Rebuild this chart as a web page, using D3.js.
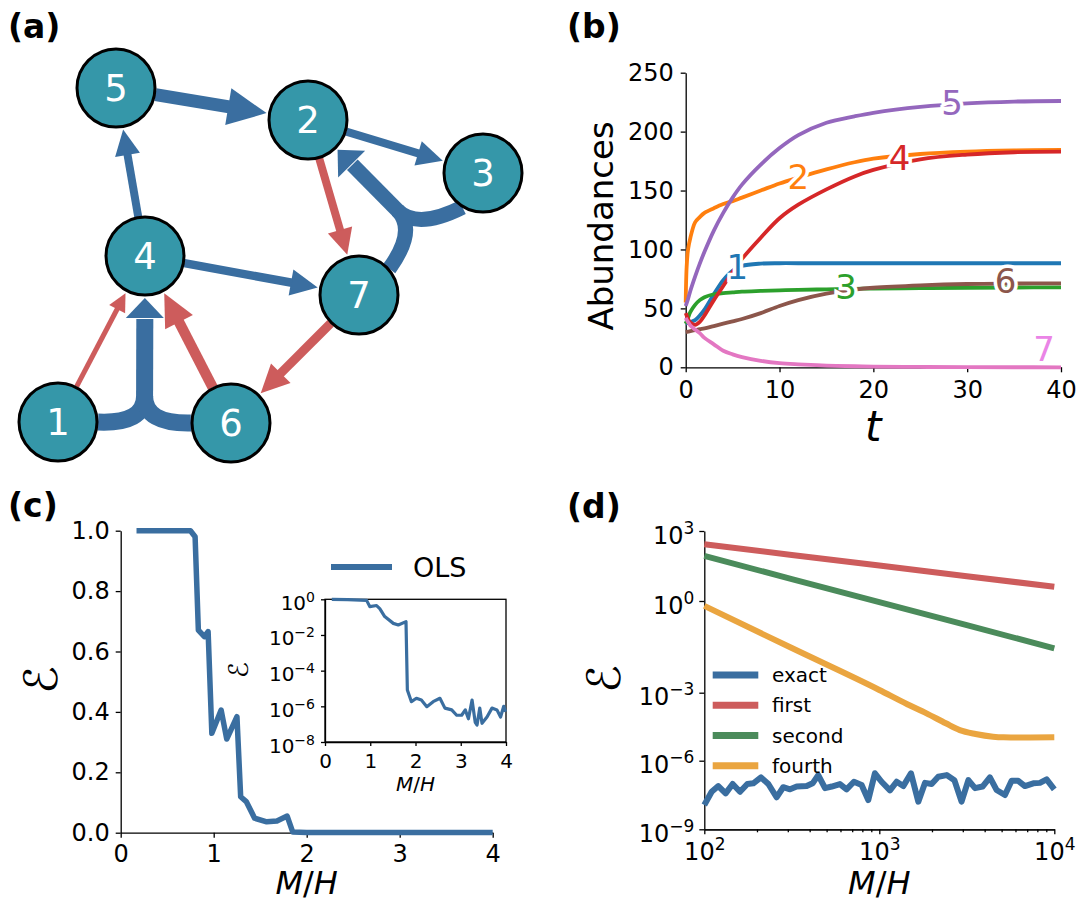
<!DOCTYPE html>
<meta charset="utf-8">
<style>
body { margin: 0; background: #fff; }
text { font-family: "DejaVu Sans", sans-serif; }
</style>
<body>
<script src="https://d3js.org/d3.v7.min.js"></script>
<script>

// ---------------- data ----------------
// (a) interaction network
var nodeX = [58, 308, 483, 145, 116, 231, 359];
var nodeY = [422, 120, 173, 256, 88, 423, 295];
var edgeFrom = [5, 2, 4, 4, 2, 7, 6, 1];
var edgeTo = [2, 3, 5, 7, 7, 6, 4, 4];
var edgeSign = [1, 1, 1, 1, -1, -1, -1, -1];
var edgeStrength = [1.3, 0.8, 0.8, 0.85, 0.8, 0.9, 1.05, 0.5];
var hyperSrc = [[1, 6], [3, 7]];
var hyperTgt = [4, 2];
var hyperStrength = [1.7, 1.5];

// (b) abundances
var tGrid = [0, 0.1, 0.25, 0.5, 1, 1.5, 2, 3, 4, 5, 6, 8, 10, 12, 15, 18, 20, 25, 30, 35, 40];
var sp1 = [37, 37.3, 37.8, 38.5, 40, 44, 49, 62, 74, 82, 86, 88, 88.3, 88.3, 88.3, 88.3, 88.3, 88.3, 88.3, 88.3, 88.3];
var sp2 = [55, 85, 100, 110, 123, 127.5, 131, 135, 138.5, 141, 144, 150, 156, 161, 168, 174, 177, 181, 183, 184, 184.5];
var sp3 = [37, 39, 42, 47, 53, 57, 59.5, 62, 63, 63.6, 64.2, 64.8, 65.3, 65.7, 66.2, 66.6, 66.8, 67.2, 67.5, 67.7, 67.9];
var sp4 = [46, 44, 41, 38, 36, 38.5, 44, 57, 69, 81, 92, 110, 126.5, 138, 151, 162, 167.5, 176.5, 180.5, 182.5, 183];
var sp5 = [52, 54.5, 58, 65, 77, 88, 98, 116, 131, 144, 155, 172, 186, 197, 207.5, 213, 216, 221, 224, 225.5, 226];
var sp6 = [30, 30.1, 30.3, 30.7, 31.5, 32.3, 33, 35, 37, 39, 41, 46, 52, 57, 62.5, 66, 67.5, 69.5, 70.7, 71.1, 71.3];
var sp7 = [42, 40.5, 38.5, 35.5, 32, 29, 25, 19.5, 14, 11, 8.7, 5.5, 3.5, 2.5, 1.5, 0.9, 0.6, 0.3, 0.1, 0.05, 0];
var spNames = ["1", "2", "3", "4", "5", "6", "7"];
var labelT = [5.5, 12, 17.1, 22.8, 28.4, 34.1, 38.2];
var labelV = [85.5, 162, 68, 177.6, 224.5, 73.5, 15.5];

// (c) OLS error vs M/H
var olsX = [0.17, 0.75, 0.8, 0.835, 0.9, 0.94, 0.98, 1.08, 1.14, 1.25, 1.29, 1.35, 1.44, 1.57, 1.68, 1.79, 1.85, 2.0, 4.0];
var olsY = [1.0, 1.0, 0.98, 0.671, 0.649, 0.666, 0.329, 0.406, 0.31, 0.384, 0.119, 0.103, 0.048, 0.036, 0.039, 0.055, 0.002, 0.001, 0.001];
// inset, log10 of the error
var insX = [0.15, 0.5, 0.92, 0.99, 1.14, 1.21, 1.32, 1.51, 1.62, 1.79, 1.82, 1.91, 2.02, 2.13, 2.25, 2.39, 2.54, 2.65, 2.8, 2.91, 3.02, 3.1, 3.17, 3.25, 3.32, 3.36, 3.42, 3.47, 3.58, 3.69, 3.8, 3.88, 3.95, 3.99];
var insLog = [0, -0.02, -0.06, -0.41, -0.35, -0.52, -0.97, -1.35, -1.44, -1.25, -5.08, -5.74, -5.55, -5.65, -6.02, -5.74, -5.55, -6.1, -6.2, -6.5, -6.5, -6.2, -6.7, -5.65, -6.9, -7.05, -6.1, -6.95, -6.6, -6.1, -6.2, -6.6, -6.0, -6.3];

// (d) error vs M/H, log10 values
var smoothLogM = [2, 2.5, 3, 3.5, 4];
var firstLog = [2.43, 1.975, 1.52, 1.065, 0.61];
var secondLog = [1.93, 0.94, -0.04, -0.79, -1.55];
var fourthLogM = [2, 2.5, 3, 3.16, 3.27, 3.38, 3.46, 3.55, 3.65, 3.71, 3.8, 4];
var fourthLog = [-0.16, -1.54, -2.91, -3.51, -3.91, -4.35, -4.65, -4.82, -4.94, -4.97, -4.98, -4.97];
var exactLogM = [2.0, 2.042, 2.08, 2.122, 2.162, 2.204, 2.246, 2.28, 2.324, 2.366, 2.413, 2.451, 2.49, 2.528, 2.585, 2.619, 2.651, 2.69, 2.728, 2.775, 2.813, 2.855, 2.899, 2.937, 2.975, 3.013, 3.061, 3.099, 3.137, 3.181, 3.223, 3.261, 3.299, 3.337, 3.385, 3.429, 3.47, 3.509, 3.547, 3.59, 3.632, 3.67, 3.718, 3.756, 3.794, 3.832, 3.88, 3.918, 3.956, 4.0];
var exactLog = [-7.94, -7.36, -7.11, -7.43, -7.02, -7.36, -7.02, -6.99, -6.73, -7.02, -7.6, -7.16, -7.25, -7.13, -7.11, -6.99, -6.63, -7.2, -7.13, -7.02, -7.25, -6.92, -7.06, -7.72, -6.55, -6.92, -7.3, -6.92, -7.11, -6.55, -7.79, -6.97, -7.02, -6.7, -6.63, -6.85, -7.79, -6.85, -7.2, -7.13, -6.73, -7.28, -7.5, -6.88, -6.88, -7.11, -6.99, -6.97, -6.82, -7.25];
var dNames = ["exact", "first", "second", "fourth"];

// ---------------- styles ----------------
var blue = "#3a6ea0", red = "#cd5c5c", teal = "#3597a9";
var tab10 = ["#1f77b4", "#ff7f0e", "#2ca02c", "#d62728", "#9467bd", "#8c564b", "#e377c2"];
var dColors = [blue, red, "#4b8b5b", "#eaa540"];

var fig = d3.select("body").append("svg")
    .attr("width", 1083)
    .attr("height", 904);

function panelLabel(txt, x, y) {
  fig.append("text").attr("x", x).attr("y", y)
    .attr("font-size", 33).attr("font-weight", "bold").text(txt);
}

function styleAxis(g, fs) {
  g.attr("font-family", null).attr("font-size", fs);
  g.select(".domain").attr("stroke", "#000").attr("stroke-width", 1.3);
  g.selectAll(".tick line").attr("stroke", "#000").attr("stroke-width", 1.3);
  g.selectAll(".tick text").attr("fill", "#000");
}

// turn tick text into 10^e with a raised exponent
function powLabels(g, supSize, rise, toExp) {
  g.selectAll(".tick text").each(function (d) {
    var t = d3.select(this), e = toExp(d);
    t.text(null);
    t.append("tspan").text("10");
    t.append("tspan").attr("dy", -rise).attr("font-size", supSize)
      .text(e < 0 ? "\u2212" + (-e) : e);
  });
}

function mhLabel(g, x, y, fs) {
  var t = g.append("text").attr("x", x).attr("y", y)
    .attr("text-anchor", "middle").attr("font-size", fs);
  t.append("tspan").attr("font-style", "italic").text("M");
  t.append("tspan").text("/");
  t.append("tspan").attr("font-style", "italic").text("H");
}

function calE(g, x, y, fs) {
  g.append("text").attr("transform", "translate(" + x + "," + y + ") rotate(-90)")
    .attr("text-anchor", "middle").attr("dy", "0.35em")
    .attr("font-size", fs).text("\u2130");
}

var intFmt = d3.format("d");

// ---------------- (a) network ----------------
panelLabel("(a)", 8, 38);
var ga = fig.append("g");
var wScale = d3.scaleLinear().domain([0, 1]).range([0, 10]);
var nodeR = 39;

function P(id) { return [nodeX[id - 1], nodeY[id - 1]]; }

function head(g, tip, ux, uy, hl, hw, col) {
  var bx = tip[0] - ux * hl, by = tip[1] - uy * hl;
  g.append("path")
    .attr("d", "M" + tip[0] + "," + tip[1] +
      "L" + (bx - uy * hw / 2) + "," + (by + ux * hw / 2) +
      "L" + (bx + uy * hw / 2) + "," + (by - ux * hw / 2) + "Z")
    .attr("fill", col);
  return [bx, by];
}

function drawArrow(g, a, b, w, col) {
  var dx = b[0] - a[0], dy = b[1] - a[1], L = Math.hypot(dx, dy);
  var ux = dx / L, uy = dy / L;
  var tip = [b[0] - ux * 42, b[1] - uy * 42];
  var base = head(g, tip, ux, uy, 2.6 * w + 5, 2.4 * w + 6, col);
  g.append("line")
    .attr("x1", a[0] + ux * 40).attr("y1", a[1] + uy * 40)
    .attr("x2", base[0] + ux).attr("y2", base[1] + uy)
    .attr("stroke", col).attr("stroke-width", w);
}

edgeFrom.forEach(function (f, i) {
  drawArrow(ga, P(f), P(edgeTo[i]), wScale(edgeStrength[i]), edgeSign[i] > 0 ? blue : red);
});

// merged (higher-order) arrows
var hyperPort = [[0, 180], [121, -41]];
var hyperStem = [140, 127];
hyperSrc.forEach(function (srcs, i) {
  var t = P(hyperTgt[i]);
  var mx = d3.mean(srcs, function (s) { return P(s)[0]; });
  var my = d3.mean(srcs, function (s) { return P(s)[1]; });
  var L = Math.hypot(mx - t[0], my - t[1]);
  var ux = (mx - t[0]) / L, uy = (my - t[1]) / L;
  var S = [t[0] + ux * hyperStem[i], t[1] + uy * hyperStem[i]];
  var C = [S[0] + ux * 28, S[1] + uy * 28];
  var w = wScale(hyperStrength[i]);
  srcs.forEach(function (s, k) {
    var p = P(s), an = hyperPort[i][k] * Math.PI / 180;
    var px = p[0] + 40 * Math.cos(an), py = p[1] + 40 * Math.sin(an);
    var path = d3.path();
    path.moveTo(px, py);
    path.quadraticCurveTo(C[0], C[1], S[0], S[1]);
    ga.append("path").attr("d", path.toString())
      .attr("fill", "none").attr("stroke", blue).attr("stroke-width", w);
  });
  var tip = [t[0] + ux * 42, t[1] + uy * 42];
  var base = head(ga, tip, -ux, -uy, 20, 38, blue);
  ga.append("line")
    .attr("x1", S[0] + ux).attr("y1", S[1] + uy)
    .attr("x2", base[0] + ux).attr("y2", base[1] + uy)
    .attr("stroke", blue).attr("stroke-width", w);
});

var node = ga.selectAll(".node")
  .data(nodeX.map(function (x, i) { return { id: i + 1, x: x, y: nodeY[i] }; }))
  .enter().append("g")
  .attr("class", "node")
  .attr("transform", function (d) { return "translate(" + d.x + "," + d.y + ")"; });
node.append("circle").attr("r", nodeR)
  .attr("fill", teal).attr("stroke", "#000").attr("stroke-width", 3);
node.append("text").attr("text-anchor", "middle").attr("dy", "0.36em")
  .attr("font-size", 37).attr("fill", "#fff")
  .text(function (d) { return d.id; });

// ---------------- (b) abundances ----------------
panelLabel("(b)", 567, 38);
var gb = fig.append("g");
var xB = d3.scaleLinear().domain([0, 40]).range([685.7, 1061]);
var yB = d3.scaleLinear().domain([0, 250]).range([367.3, 72.7]);

gb.append("g").attr("transform", "translate(0," + yB(0) + ")")
  .call(d3.axisBottom(xB).tickValues([0, 10, 20, 30, 40]).tickFormat(intFmt)
    .tickSize(5).tickPadding(8.5).tickSizeOuter(0))
  .call(styleAxis, 24);
gb.append("g").attr("transform", "translate(" + xB(0) + ",0)")
  .call(d3.axisLeft(yB).tickValues([0, 50, 100, 150, 200, 250]).tickFormat(intFmt)
    .tickSize(5).tickPadding(7).tickSizeOuter(0))
  .call(styleAxis, 24);

var lineB = d3.line()
  .x(function (d) { return xB(d[0]); })
  .y(function (d) { return yB(d[1]); })
  .curve(d3.curveCatmullRom.alpha(0.5));
[sp1, sp2, sp3, sp4, sp5, sp6, sp7].forEach(function (v, i) {
  gb.append("path")
    .datum(tGrid.map(function (t, j) { return [t, v[j]]; }))
    .attr("d", lineB)
    .attr("fill", "none").attr("stroke", tab10[i]).attr("stroke-width", 3.8);
});
spNames.forEach(function (s, i) {
  gb.append("text").attr("x", xB(labelT[i])).attr("y", yB(labelV[i]))
    .attr("dy", "0.36em").attr("text-anchor", "middle").attr("font-size", 34)
    .attr("fill", i === 6 ? "#ea84e6" : tab10[i])
    .attr("stroke", "#fff").attr("stroke-width", 7).attr("paint-order", "stroke")
    .text(s);
});
gb.append("text").attr("x", (xB(0) + xB(40)) / 2).attr("y", 441)
  .attr("text-anchor", "middle").attr("font-size", 42).attr("font-style", "italic").text("t");
gb.append("text").attr("transform", "translate(613," + ((yB(0) + yB(250)) / 2 + 6) + ") rotate(-90)")
  .attr("text-anchor", "middle").attr("font-size", 34).text("Abundances");

// ---------------- (c) OLS ----------------
panelLabel("(c)", 8, 517);
var gc = fig.append("g");
var xC = d3.scaleLinear().domain([0, 4]).range([120.7, 492.7]);
var yC = d3.scaleLinear().domain([0, 1]).range([832.7, 530.7]);

gc.append("g").attr("transform", "translate(0," + yC(0) + ")")
  .call(d3.axisBottom(xC).tickValues([0, 1, 2, 3, 4]).tickFormat(intFmt)
    .tickSize(5).tickPadding(7).tickSizeOuter(0))
  .call(styleAxis, 24);
gc.append("g").attr("transform", "translate(" + xC(0) + ",0)")
  .call(d3.axisLeft(yC).tickValues([0, 0.2, 0.4, 0.6, 0.8, 1.0]).tickFormat(d3.format(".1f"))
    .tickSize(5).tickPadding(6).tickSizeOuter(0))
  .call(styleAxis, 24);

gc.append("path")
  .datum(olsX.map(function (x, i) { return [x, olsY[i]]; }))
  .attr("d", d3.line().x(function (d) { return xC(d[0]); }).y(function (d) { return yC(d[1]); }))
  .attr("fill", "none").attr("stroke", blue).attr("stroke-width", 5.5).attr("stroke-linejoin", "round");
mhLabel(gc, (xC(0) + xC(4)) / 2, 894, 32);
calE(gc, 41, 680, 46);

// legend
gc.append("line").attr("x1", 331).attr("x2", 392).attr("y1", 567).attr("y2", 567)
  .attr("stroke", blue).attr("stroke-width", 6);
gc.append("text").attr("x", 413).attr("y", 567).attr("dy", "0.36em")
  .attr("font-size", 27).text("OLS");

// inset
var gi = fig.append("g");
var xI = d3.scaleLinear().domain([0, 4]).range([325, 506]);
var yI = d3.scaleLog().domain([1e-8, 1]).range([742, 599.3]);
gi.append("rect").attr("x", xI(0)).attr("y", yI(1))
  .attr("width", xI(4) - xI(0)).attr("height", yI(1e-8) - yI(1))
  .attr("fill", "#fff").attr("stroke", "#000").attr("stroke-width", 1.3);
gi.append("g").attr("transform", "translate(0," + yI(1e-8) + ")")
  .call(d3.axisBottom(xI).tickValues([0, 1, 2, 3, 4]).tickFormat(intFmt)
    .tickSize(4).tickPadding(8).tickSizeOuter(0))
  .call(styleAxis, 20);
gi.append("g").attr("transform", "translate(" + xI(0) + ",0)")
  .call(d3.axisLeft(yI).tickValues([1e-8, 1e-6, 1e-4, 1e-2, 1]).tickSize(4).tickPadding(6).tickSizeOuter(0))
  .call(styleAxis, 20)
  .call(function (g) {
    g.selectAll(".tick text").attr("dy", "0.5em");
    powLabels(g, 14, 8, function (d) { return Math.round(Math.log10(d)); });
  });
gi.append("path")
  .datum(insX.map(function (x, i) { return [x, Math.pow(10, insLog[i])]; }))
  .attr("d", d3.line().x(function (d) { return xI(d[0]); }).y(function (d) { return yI(d[1]); }))
  .attr("fill", "none").attr("stroke", blue).attr("stroke-width", 3.2).attr("stroke-linejoin", "round");
mhLabel(gi, (xI(0) + xI(4)) / 2, 791, 20);
calE(gi, 239, 670, 27);

// ---------------- (d) error vs M/H ----------------
panelLabel("(d)", 567, 518);
var gd = fig.append("g");
var xD = d3.scaleLog().domain([1e2, 1e4]).range([704.3, 1054.3]);
var yD = d3.scaleLinear().domain([-9, -6, -3, 0, 3]).range([829.3, 760.7, 692.7, 601, 531]);

var minorM = [200, 300, 400, 500, 600, 700, 800, 900, 2000, 3000, 4000, 5000, 6000, 7000, 8000, 9000];
gd.append("g").attr("transform", "translate(0," + yD(-9) + ")")
  .call(d3.axisBottom(xD).tickValues(minorM).tickSize(3).tickFormat("").tickSizeOuter(0))
  .call(styleAxis, 24);
gd.append("g").attr("transform", "translate(0," + yD(-9) + ")")
  .call(d3.axisBottom(xD).tickValues([1e2, 1e3, 1e4]).tickSize(5).tickPadding(9).tickSizeOuter(0))
  .call(styleAxis, 24)
  .call(function (g) {
    powLabels(g, 17, 10, function (d) { return Math.round(Math.log10(d)); });
  });
gd.append("g").attr("transform", "translate(" + xD(1e2) + ",0)")
  .call(d3.axisLeft(yD).tickValues([-9, -6, -3, 0, 3]).tickSize(5).tickPadding(5).tickSizeOuter(0))
  .call(styleAxis, 24)
  .call(function (g) {
    g.selectAll(".tick text").attr("dy", "0.5em");
    powLabels(g, 17, 10, function (d) { return d; });
  });

var lineD = d3.line()
  .x(function (d) { return xD(Math.pow(10, d[0])); })
  .y(function (d) { return yD(d[1]); });
var dSeries = [
  [exactLogM, exactLog],
  [smoothLogM, firstLog],
  [smoothLogM, secondLog],
  [fourthLogM, fourthLog]
];
[1, 2, 3, 0].forEach(function (k) {
  var xs = dSeries[k][0], ys = dSeries[k][1];
  gd.append("path")
    .datum(xs.map(function (x, i) { return [x, ys[i]]; }))
    .attr("d", k === 3 ? lineD.curve(d3.curveMonotoneX) : lineD.curve(d3.curveLinear))
    .attr("fill", "none").attr("stroke", dColors[k]).attr("stroke-width", 6)
    .attr("stroke-linejoin", "round");
});

// legend
var legY = d3.scalePoint().domain(dNames).range([675, 765.7]);
dNames.forEach(function (n, i) {
  gd.append("line").attr("x1", 712.7).attr("x2", 758.3).attr("y1", legY(n)).attr("y2", legY(n))
    .attr("stroke", dColors[i]).attr("stroke-width", 7);
  gd.append("text").attr("x", 772).attr("y", legY(n)).attr("dy", "0.36em")
    .attr("font-size", 20).text(n);
});
mhLabel(gd, (xD(1e2) + xD(1e4)) / 2, 894, 32);
calE(gd, 604, 679, 46);

</script>
</body>
